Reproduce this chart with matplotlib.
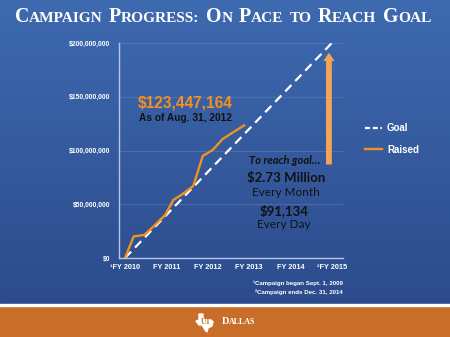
import numpy as np
import matplotlib
matplotlib.use('Agg')
import matplotlib.pyplot as plt
from matplotlib.lines import Line2D
from matplotlib.patches import Rectangle, Polygon
from matplotlib.offsetbox import TextArea, HPacker, AnchoredOffsetbox

# data (fiscal years after Sept 1 2009, dollars)
fy_labels = ['\u00b9FY 2010', 'FY 2011', 'FY 2012', 'FY 2013', 'FY 2014', '\u00b2FY 2015']
goal_x = [0, 5]
goal_y = [0, 200_000_000]
raised_x = [0.0, 0.21, 0.47, 0.76, 0.97, 1.17, 1.41, 1.65, 1.88, 2.12, 2.36, 2.88]
raised_y = [0, 20.0e6, 21.5e6, 32.0e6, 40.0e6, 54.0e6, 60.0e6, 67.0e6, 95.0e6, 100.5e6, 110.7e6, 123.4e6]
y_ticks = [0, 50e6, 100e6, 150e6, 200e6]
y_labels = ['$0', '$50,000,000', '$100,000,000', '$150,000,000', '$200,000,000']
arrow_x = 4.93
arrow_from, arrow_to = 87e6, 191e6

W, H = 450, 337
SMALLFONT = ['Liberation Sans Narrow', 'Liberation Sans', 'DejaVu Sans']

def px(x, y):
    return x / W, 1 - y / H

fig = plt.figure(figsize=(4.5, 3.37), dpi=100)

# background
bg = fig.add_axes([0, 0, 1, 1], zorder=-10)
bg.set_axis_off()
top = np.array([0x3e, 0x6a, 0xb0]) / 255
bot = np.array([0x2a, 0x48, 0x88]) / 255
t = np.linspace(0, 1, 256)[:, None]
grad = top[None, :] * (1 - t) + bot[None, :] * t
bg.imshow(grad[:, None, :], aspect='auto', extent=[0, 1, 0, 1], transform=bg.transAxes)
bg.add_patch(Rectangle((0, 0), 1, 31 / H, color='#c96e28', transform=bg.transAxes))
bg.add_patch(Rectangle((0, 31 / H), 1, 2 / H, color='white', transform=bg.transAxes))
bg.set_xlim(0, 1)
bg.set_ylim(0, 1)

# title in small caps
words = ['Campaign', 'Progress:', 'On', 'Pace', 'to', 'Reach', 'Goal']
tp_big = dict(color='white', size=14.3, weight='bold', family='Liberation Serif')
tp_small = dict(color='white', size=11.1, weight='bold', family='Liberation Serif')
word_boxes = []
for w in words:
    kids = []
    if w[0].isupper():
        kids.append(TextArea(w[0], textprops=tp_big))
        rest = w[1:]
    else:
        rest = w
    if rest:
        kids.append(TextArea(rest.upper(), textprops=tp_small))
    word_boxes.append(HPacker(children=kids, align='baseline', pad=0, sep=0))
title_box = HPacker(children=word_boxes, align='baseline', pad=0, sep=4.5)
fig.add_artist(AnchoredOffsetbox(loc='center', child=title_box, pad=0, frameon=False,
                                 bbox_to_anchor=px(223, 17), bbox_transform=fig.transFigure))

# chart
ax = fig.add_axes([119 / W, 1 - 258 / H, (343 - 119) / W, (258 - 43) / H])
ax.patch.set_visible(False)
ax.plot(goal_x, goal_y, color='white', lw=1.6, dashes=(4, 2.5), zorder=3)
ax.plot(raised_x, raised_y, color='#f39020', lw=1.7, zorder=4)
ax.annotate('', xy=(arrow_x, arrow_to), xytext=(arrow_x, arrow_from),
            arrowprops=dict(width=4.2, headwidth=8, headlength=6, color='#f2a556', lw=0))
ax.set_xlim(-0.145, 5.27)
ax.set_ylim(0, 200e6)
ax.set_yticks(y_ticks)
ax.set_yticklabels(y_labels)
ax.set_xticks(range(len(fy_labels)))
ax.set_xticklabels(fy_labels)
ax.tick_params(length=0, colors='white')
ax.tick_params(axis='y', pad=6.5, labelsize=4.9)
ax.tick_params(axis='x', pad=4, labelsize=5.3)
for lab in ax.get_xticklabels() + ax.get_yticklabels():
    lab.set_family(SMALLFONT)
    lab.set_weight('bold')
ax.grid(axis='y', color='#6d8fca', lw=0.6, alpha=0.45)
for s in ['top', 'right']:
    ax.spines[s].set_visible(False)
for s in ['left', 'bottom']:
    ax.spines[s].set_color('#b4c6e6')
    ax.spines[s].set_linewidth(1.0)

handles = [Line2D([], [], color='white', lw=1.6, dashes=(2.2, 1.3)),
           Line2D([], [], color='#f39020', lw=1.7)]
leg = fig.legend(handles, ['Goal', 'Raised'], loc='center left', bbox_to_anchor=px(356, 139),
                 frameon=False, handlelength=1.8, handletextpad=0.5, labelspacing=1.2,
                 prop=dict(family=SMALLFONT, size=7, weight='bold'))
for txt in leg.get_texts():
    txt.set_color('white')

# annotations
fig.text(*px(185, 103), '$123,447,164', color='#f39020', size=11.2, weight='bold',
         family='Liberation Sans', ha='center', va='center')
fig.text(*px(185, 118), 'As of Aug. 31, 2012', color='#111111', size=7.3, weight='bold',
         family='Liberation Sans', ha='center', va='center')
fig.text(*px(285, 161), 'To reach goal\u2026', color='#111111', size=8, weight='bold',
         style='italic', family='Lato', ha='center', va='center')
fig.text(*px(286, 178), '$2.73 Million', color='#111111', size=9.5, weight='bold',
         family='Lato', ha='center', va='center')
fig.text(*px(286, 192), 'Every Month', color='#111111', size=8.5,
         family='Lato', ha='center', va='center')
fig.text(*px(284, 211), '$91,134', color='#111111', size=9.5, weight='bold',
         family='Lato', ha='center', va='center')
fig.text(*px(284, 225), 'Every Day', color='#111111', size=8.5,
         family='Lato', ha='center', va='center')

fig.text(*px(343, 283), '\u00b9Campaign began Sept. 1, 2009', color='white', size=4.4,
         weight='bold', family=SMALLFONT, ha='right', va='center')
fig.text(*px(343, 292), '\u00b2Campaign ends Dec. 31, 2014', color='white', size=4.4,
         weight='bold', family=SMALLFONT, ha='right', va='center')

# logo
tx = [(3, 0), (7, 0), (7, 5), (15, 6), (17, 8), (16, 12), (12, 14), (11, 18), (9, 16),
      (6, 11), (3, 11), (0, 7), (3, 6)]
bg.add_patch(Polygon([px(196 + a, 314 + b) for a, b in tx], closed=True, color='white',
                     transform=bg.transAxes))
fig.text(*px(206, 322), 'UT', color='#c96e28', size=5.5, weight='bold',
         family='Liberation Serif', ha='center', va='center')
logo_box = HPacker(children=[TextArea('D', textprops=dict(color='white', size=7.5, weight='bold', family='Liberation Serif')),
                             TextArea('ALLAS', textprops=dict(color='white', size=5.8, weight='bold', family='Liberation Serif'))],
                   align='baseline', pad=0, sep=0)
fig.add_artist(AnchoredOffsetbox(loc='center left', child=logo_box, pad=0, frameon=False,
                                 bbox_to_anchor=px(215, 322), bbox_transform=fig.transFigure))

fig.savefig('out.png', dpi=100)
